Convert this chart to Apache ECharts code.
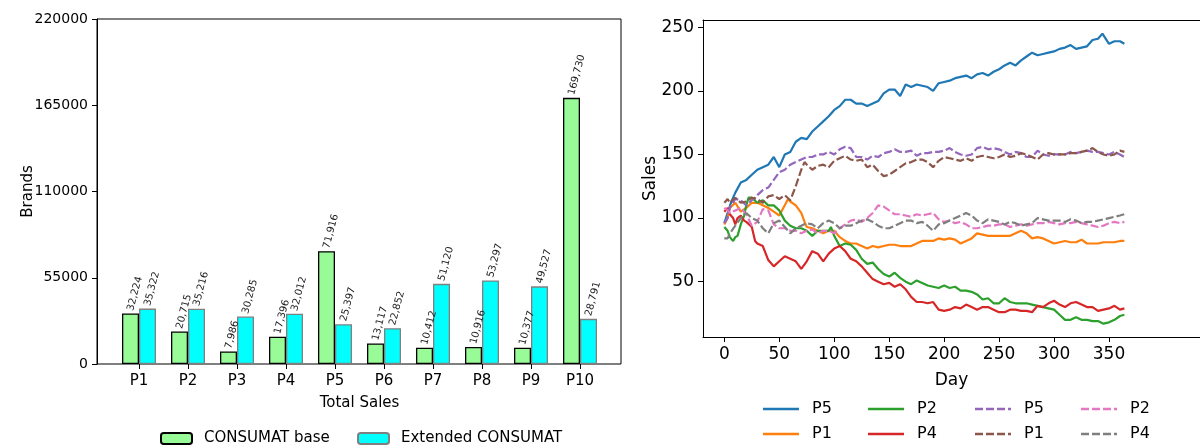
<!DOCTYPE html>
<html>
<head>
<meta charset="utf-8">
<script src="https://cdn.jsdelivr.net/npm/echarts@6/dist/echarts.min.js"></script>
<style>
html,body{margin:0;padding:0;background:#fff;}
#chart{width:1200px;height:447px;}
</style>
</head>
<body>
<div id="chart"></div>
<script>
// ---- Left chart data ----
const brandCategories = ['P1','P2','P3','P4','P5','P6','P7','P8','P9','P10'];
const consumatBase = [32224, 20715, 7986, 17396, 71916, 13117, 10412, 10916, 10377, 169730];
const extendedConsumat = [35322, 35216, 30285, 32012, 25397, 22852, 51120, 53297, 49527, 28791];
const brandTicks = [0, 55000, 110000, 165000, 220000];

// ---- Right chart data: [day, sales] ----
const dayTicks = [0, 50, 100, 150, 200, 250, 300, 350];
const salesTicks = [50, 100, 150, 200, 250];

const p5Base = [[0,96],[3,104],[6,112],[10,120],[15,128],[20,130],[25,134],[30,138],[35,140],[40,142],[45,148],[50,140],[55,150],[60,152],[65,160],[70,163],[75,162],[80,168],[85,172],[90,176],[95,180],[100,185],[105,188],[110,193],[115,193],[120,190],[125,190],[130,188],[135,190],[140,192],[145,198],[150,201],[155,201],[160,196],[165,205],[170,203],[175,205],[180,204],[185,203],[190,200],[195,206],[200,207],[205,208],[210,210],[215,211],[220,212],[225,210],[230,213],[235,214],[240,212],[245,215],[250,217],[255,220],[260,222],[265,220],[270,224],[275,227],[280,230],[285,228],[290,229],[295,230],[300,231],[305,233],[310,234],[315,236],[320,233],[325,234],[330,235],[335,240],[340,241],[344,245],[350,237],[355,239],[360,239],[364,237]];
const p1Base = [[0,95],[3,100],[5,108],[10,112],[15,105],[20,108],[25,112],[30,112],[35,110],[40,108],[45,105],[50,102],[55,110],[58,115],[60,113],[65,110],[70,104],[73,97],[75,93],[80,92],[85,90],[90,88],[95,90],[100,90],[105,85],[110,82],[115,80],[120,80],[125,78],[130,76],[135,78],[140,77],[145,78],[150,79],[155,79],[160,78],[165,78],[170,78],[175,80],[180,82],[185,82],[190,82],[195,84],[200,83],[205,84],[210,83],[215,80],[220,82],[225,84],[230,88],[235,87],[240,86],[245,86],[250,86],[255,86],[260,86],[265,88],[270,90],[275,88],[280,84],[285,85],[290,84],[295,82],[300,80],[305,81],[310,82],[315,81],[320,81],[325,83],[330,80],[335,80],[340,80],[345,81],[350,81],[355,81],[360,82],[364,82]];
const p2Base = [[0,93],[3,90],[5,85],[8,82],[10,85],[12,86],[15,95],[18,102],[20,110],[22,116],[25,116],[30,112],[35,114],[40,110],[45,110],[50,106],[55,98],[60,94],[65,92],[70,92],[75,90],[80,86],[85,90],[90,90],[95,90],[97,93],[100,86],[105,78],[110,80],[115,79],[120,75],[125,68],[130,64],[135,65],[140,60],[145,56],[150,54],[155,57],[160,53],[165,50],[170,48],[175,51],[180,49],[185,47],[190,46],[195,45],[200,47],[205,45],[210,46],[215,43],[220,43],[225,42],[230,40],[235,36],[240,37],[245,33],[250,33],[255,37],[260,34],[265,33],[270,33],[275,33],[280,32],[285,31],[290,30],[295,29],[300,28],[305,24],[310,20],[315,20],[320,22],[325,20],[330,20],[335,19],[340,19],[345,17],[350,18],[355,20],[360,23],[364,24]];
const p4Base = [[0,105],[3,108],[5,103],[8,100],[10,95],[12,100],[15,102],[18,98],[20,97],[25,93],[28,82],[30,80],[35,78],[40,67],[45,62],[50,66],[55,70],[60,68],[65,66],[70,60],[75,66],[80,74],[85,72],[90,66],[95,72],[100,76],[105,78],[110,74],[115,68],[120,66],[125,62],[130,57],[135,52],[140,50],[145,48],[150,49],[155,46],[160,48],[165,44],[170,38],[175,34],[180,34],[185,33],[190,34],[195,28],[200,27],[205,28],[210,30],[215,29],[220,32],[225,30],[230,28],[235,30],[240,30],[245,28],[250,26],[255,26],[260,28],[265,28],[270,27],[275,27],[280,26],[285,31],[290,30],[295,33],[300,35],[305,32],[310,30],[315,33],[320,34],[325,32],[330,30],[335,30],[340,27],[345,28],[350,29],[355,31],[360,28],[364,29]];
const p5Ext = [[0,96],[3,100],[5,108],[10,115],[15,114],[20,110],[25,114],[30,118],[35,122],[40,124],[45,130],[50,136],[55,138],[60,142],[65,144],[70,146],[75,148],[80,148],[85,150],[90,150],[95,152],[100,150],[105,154],[110,156],[115,155],[120,148],[125,148],[130,146],[135,149],[140,148],[145,151],[150,152],[155,154],[160,152],[165,152],[170,153],[175,149],[180,151],[185,151],[190,152],[195,152],[200,153],[205,155],[210,152],[215,150],[220,149],[225,150],[230,155],[235,156],[240,154],[245,155],[250,154],[255,152],[260,150],[265,152],[270,151],[275,148],[280,148],[285,153],[290,150],[295,149],[300,150],[305,150],[310,150],[315,152],[320,151],[325,152],[330,153],[335,152],[340,152],[345,151],[350,150],[355,152],[360,150],[364,148]];
const p1Ext = [[0,112],[3,115],[5,112],[10,116],[15,112],[20,113],[25,116],[30,115],[35,112],[40,117],[45,118],[50,115],[55,118],[60,114],[65,125],[70,138],[73,144],[75,142],[80,138],[85,141],[90,142],[95,140],[100,145],[105,147],[110,149],[115,146],[120,145],[125,146],[130,140],[135,142],[140,137],[145,133],[150,134],[155,137],[160,140],[165,143],[170,144],[175,146],[180,146],[185,144],[190,140],[195,145],[200,148],[205,147],[210,146],[215,145],[220,147],[225,145],[230,148],[235,149],[240,148],[245,147],[250,148],[255,150],[260,148],[265,149],[270,151],[275,150],[280,148],[285,146],[290,150],[295,151],[300,150],[305,150],[310,150],[315,151],[320,151],[325,152],[330,153],[335,155],[340,152],[345,150],[350,149],[355,150],[360,153],[364,152]];
const p2Ext = [[0,108],[3,106],[5,104],[10,106],[15,108],[20,103],[25,94],[30,97],[35,107],[40,106],[45,95],[50,92],[55,92],[60,90],[65,90],[70,88],[75,90],[80,91],[85,88],[90,90],[95,90],[100,88],[105,92],[110,95],[115,98],[120,99],[125,97],[130,100],[135,104],[140,110],[145,109],[150,106],[155,103],[160,103],[165,102],[170,101],[175,103],[180,102],[185,103],[190,104],[195,99],[200,97],[205,98],[210,96],[215,97],[220,95],[225,92],[230,92],[235,93],[240,94],[245,94],[250,95],[255,95],[260,93],[265,94],[270,95],[275,94],[280,95],[285,96],[290,96],[295,97],[300,96],[305,95],[310,96],[315,96],[320,97],[325,96],[330,95],[335,94],[340,93],[345,94],[350,96],[355,97],[360,96],[364,97]];
const p4Ext = [[0,84],[3,84],[5,88],[10,94],[15,100],[20,104],[25,100],[30,98],[35,92],[40,88],[45,96],[50,98],[55,93],[60,88],[65,92],[70,94],[75,96],[80,95],[85,92],[90,96],[95,98],[100,96],[105,92],[110,94],[115,94],[120,96],[125,98],[130,99],[135,97],[140,94],[145,92],[150,92],[155,94],[160,96],[165,98],[170,98],[175,96],[180,97],[185,94],[190,90],[195,95],[200,96],[205,98],[210,100],[215,102],[220,104],[225,102],[230,98],[235,96],[240,99],[245,98],[250,97],[255,95],[260,97],[265,96],[270,94],[275,95],[280,96],[285,100],[290,99],[295,98],[300,98],[305,98],[310,97],[315,99],[320,98],[325,96],[330,97],[335,97],[340,98],[345,99],[350,100],[355,101],[360,102],[364,103]];

const FONT = 'DejaVu Sans';
const chart = echarts.init(document.getElementById('chart'), null, {renderer: 'canvas'});

const SOLID_ICON = 'path://M0,0H36V2.4H0Z';
const DASH_ICON = 'path://M0,0H8V2.4H0Z M11,0H19V2.4H11Z M22,0H30V2.4H22Z M33,0H36V2.4H33Z';

const lineDefs = [
  {name: 'P5|a', data: p5Base, color: '#1f77b4', dash: 'solid'},
  {name: 'P1|a', data: p1Base, color: '#ff7f0e', dash: 'solid'},
  {name: 'P2|a', data: p2Base, color: '#2ca02c', dash: 'solid'},
  {name: 'P4|a', data: p4Base, color: '#d62728', dash: 'solid'},
  {name: 'P5|b', data: p5Ext, color: '#9467bd', dash: [8, 3]},
  {name: 'P1|b', data: p1Ext, color: '#8c564b', dash: [8, 3]},
  {name: 'P2|b', data: p2Ext, color: '#e377c2', dash: [8, 3]},
  {name: 'P4|b', data: p4Ext, color: '#7f7f7f', dash: [8, 3]}
];
const legendPos = [[763,401],[763,426],[868,401],[868,426],[975,401],[975,426],[1081,401],[1081,426]];

const lineSeries = lineDefs.map(d => ({
  type: 'line', name: d.name, data: d.data,
  xAxisIndex: 2, yAxisIndex: 2,
  symbol: 'none', showSymbol: false,
  lineStyle: {color: d.color, width: 2.2, type: d.dash},
  itemStyle: {color: d.color},
  animation: false
}));

const lineLegends = lineDefs.map((d, i) => ({
  data: [{name: d.name, icon: d.dash === 'solid' ? SOLID_ICON : DASH_ICON}],
  left: legendPos[i][0], top: legendPos[i][1], padding: 0,
  itemWidth: 36, itemHeight: 2.4,
  itemStyle: {color: d.color, borderWidth: 0},
  formatter: n => n.split('|')[0],
  textStyle: {fontFamily: FONT, fontSize: 16, color: '#000', padding: [0,0,0,8], lineHeight: 16},
  selectedMode: false
}));

const barLabel = {
  show: true, position: 'top', rotate: 75, align: 'left', verticalAlign: 'middle',
  distance: 3, fontFamily: FONT, fontSize: 10, color: '#222',
  formatter: p => p.value.toLocaleString('en-US')
};

chart.setOption({
  backgroundColor: '#fff',
  animation: false,
  grid: [
    {left: 97, top: 19, width: 524, height: 345, show: true, borderColor: '#000', borderWidth: 1, backgroundColor: 'transparent', outerBoundsMode: 'none', containLabel: false},
    {left: 114.5, top: 19, width: 490, height: 345, outerBoundsMode: 'none', containLabel: false},
    {left: 703, top: 20, width: 497, height: 317, outerBoundsMode: 'none', containLabel: false}
  ],
  xAxis: [
    {type: 'value', gridIndex: 0, min: 0, max: 1, show: false},
    {type: 'category', gridIndex: 1, data: brandCategories,
     axisLine: {show: false},
     axisTick: {show: true, alignWithLabel: true, length: 5, lineStyle: {color: '#000'}},
     axisLabel: {fontFamily: FONT, fontSize: 15, color: '#000', margin: 10},
     name: 'Total Sales', nameLocation: 'middle', nameGap: 32, nameMoveOverlap: false,
     nameTextStyle: {fontFamily: FONT, fontSize: 15, color: '#000'}},
    {type: 'value', gridIndex: 2, min: -19.4, max: 432.8,
     axisLine: {show: true, onZero: false, lineStyle: {color: '#000'}},
     axisTick: {show: true, length: 5, customValues: dayTicks, lineStyle: {color: '#000'}},
     axisLabel: {fontFamily: FONT, fontSize: 17, color: '#000', margin: 9, customValues: dayTicks},
     splitLine: {show: false},
     name: 'Day', nameLocation: 'middle', nameGap: 35, nameMoveOverlap: false,
     nameTextStyle: {fontFamily: FONT, fontSize: 17, color: '#000'}},
    {type: 'value', gridIndex: 2, position: 'top', min: -19.4, max: 432.8,
     axisLine: {show: true, onZero: false, lineStyle: {color: '#000'}},
     axisTick: {show: false}, axisLabel: {show: false}, splitLine: {show: false}}
  ],
  yAxis: [
    {type: 'value', gridIndex: 0, min: 0, max: 220000, interval: 55000,
     axisLine: {show: true, lineStyle: {color: '#000'}},
     axisTick: {show: true, length: 5, lineStyle: {color: '#000'}},
     axisLabel: {fontFamily: FONT, fontSize: 14, color: '#000', margin: 9, formatter: v => String(v)},
     splitLine: {show: false},
     name: 'Brands', nameLocation: 'middle', nameGap: 61, nameMoveOverlap: false,
     nameTextStyle: {fontFamily: FONT, fontSize: 15, color: '#000'}},
    {type: 'value', gridIndex: 1, min: 0, max: 220000, show: false},
    {type: 'value', gridIndex: 2, min: 6.5, max: 255.7,
     axisLine: {show: true, onZero: false, lineStyle: {color: '#000'}},
     axisTick: {show: true, length: 5, customValues: salesTicks, lineStyle: {color: '#000'}},
     axisLabel: {fontFamily: FONT, fontSize: 17, color: '#000', margin: 9, customValues: salesTicks},
     splitLine: {show: false},
     name: 'Sales', nameLocation: 'middle', nameGap: 44, nameMoveOverlap: false,
     nameTextStyle: {fontFamily: FONT, fontSize: 17, color: '#000'}}
  ],
  legend: [
    {data: ['CONSUMAT base'], left: 160, top: 431, padding: 0, itemWidth: 31, itemHeight: 11,
     textStyle: {fontFamily: FONT, fontSize: 15, color: '#000', padding: [0,0,0,7]}, selectedMode: false},
    {data: ['Extended CONSUMAT'], left: 357, top: 431, padding: 0, itemWidth: 31, itemHeight: 11,
     textStyle: {fontFamily: FONT, fontSize: 15, color: '#000', padding: [0,0,0,7]}, selectedMode: false}
  ].concat(lineLegends),
  series: [
    {type: 'bar', name: 'CONSUMAT base', data: consumatBase, xAxisIndex: 1, yAxisIndex: 1,
     barWidth: 17, barGap: '0%',
     itemStyle: {color: '#98FB98', borderColor: '#000', borderWidth: 1.3},
     label: barLabel},
    {type: 'bar', name: 'Extended CONSUMAT', data: extendedConsumat, xAxisIndex: 1, yAxisIndex: 1,
     barWidth: 17, barGap: '0%',
     itemStyle: {color: '#00FFFF', borderColor: '#808080', borderWidth: 1.3},
     label: barLabel}
  ].concat(lineSeries)
});
</script>
</body>
</html>
